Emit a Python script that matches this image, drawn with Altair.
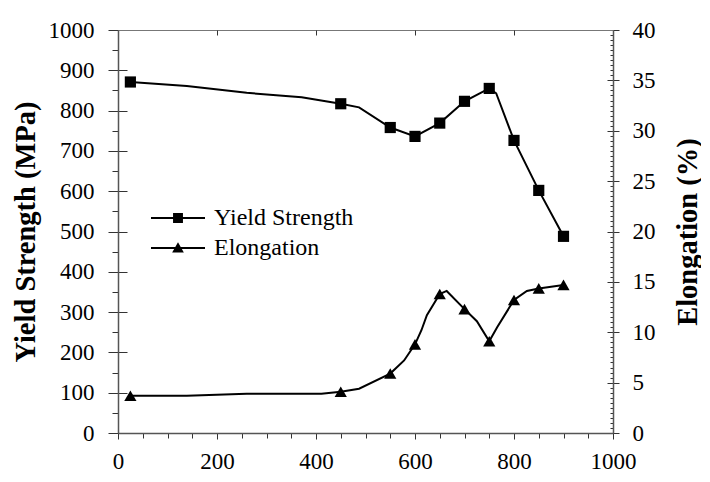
import altair as alt
import pandas as pd

# Marker points
ys_x = [25, 450, 550, 600, 650, 700, 750, 800, 850, 900]
ys_y = [871, 817, 758, 736, 769, 823, 855, 726, 602, 488]
el_x = [25, 450, 550, 600, 650, 700, 750, 800, 850, 900]
el_y = [3.7, 4.1, 5.9, 8.8, 13.8, 12.3, 9.1, 13.2, 14.35, 14.7]

# Curve vertices
ys_line_x = [25, 139, 260, 371, 450, 487, 550, 600, 650, 700, 750, 764, 800, 850, 900]
ys_line_y = [871, 861, 844, 833, 817, 808, 758, 736, 769, 823, 855, 843, 726, 602, 488]
el_line_x = [25, 139, 260, 411, 450, 487, 550, 578, 600, 613, 624, 650, 664, 700, 725, 750, 766, 800, 826, 850, 900]
el_line_y = [3.7, 3.7, 3.9, 3.9, 4.1, 4.4, 5.9, 7.2, 8.8, 10.2, 11.7, 13.8, 14.1, 12.3, 11.1, 9.1, 10.5, 13.2, 14.1, 14.35, 14.7]

series = ["Yield Strength", "Elongation"]

FONT = "Liberation Serif"
TICK = "#333"
W, H = 495, 403

ys_pts = pd.DataFrame({"T": ys_x, "YS": ys_y})
el_pts = pd.DataFrame({"T": el_x, "EL": el_y})
ys_line = pd.DataFrame({"T": ys_line_x, "YS": ys_line_y})
el_line = pd.DataFrame({"T": el_line_x, "EL": el_line_y})
leg = pd.DataFrame({"S": series})

x_enc = alt.X(
    "T:Q",
    scale=alt.Scale(domain=[0, 1000], nice=False),
    axis=alt.Axis(
        title=None,
        values=list(range(0, 1001, 50)),
        labelExpr="datum.value % 200 === 0 ? format(datum.value, 'd') : ''",
        labelOverlap=False,
        labelFlush=False,
        labelFont=FONT,
        tickSize={"condition": {"test": "datum.value % 200 === 0", "value": 6}, "value": 5},
        labelPadding=11,
        grid=True,
        gridDash=[5, 3000],
        gridColor=TICK,
        gridOpacity={"condition": {"test": "datum.value % 200 === 0 && datum.value > 0 && datum.value < 1000", "value": 1}, "value": 0},
    ),
)

y_left_axis = alt.Axis(
    title="Yield Strength (MPa)",
    values=list(range(0, 1001, 50)),
    labelExpr="datum.value % 100 === 0 ? format(datum.value, 'd') : ''",
    labelOverlap=False,
    labelFlush=False,
    labelFont=FONT,
    titleFont=FONT,
    tickSize={"condition": {"test": "datum.value % 100 === 0", "value": 10}, "value": 6},
    labelPadding=14,
    titleX=-93,
    titleY=H / 2,
    titleAngle=270,
    titleBaseline="middle",
    titleAlign="center",
    grid=True,
    gridDash=[9, 3000],
    gridColor=TICK,
    gridOpacity={"condition": {"test": "datum.value % 100 === 0 && datum.value > 0 && datum.value < 1000", "value": 1}, "value": 0},
)
y_left = alt.Y("YS:Q", scale=alt.Scale(domain=[0, 1000], nice=False), axis=y_left_axis)

el_ticks = [i * 0.5 for i in range(0, 81)]
y_right_axis = alt.Axis(
    title="Elongation (%)",
    orient="right",
    values=el_ticks,
    labelExpr="datum.value % 5 === 0 ? format(datum.value, 'd') : ''",
    labelOverlap=False,
    labelFlush=False,
    labelFont=FONT,
    titleFont=FONT,
    tickSize={"condition": {"test": "datum.value % 5 === 0", "value": 6}, "value": 0},
    labelPadding=13,
    titleX=74,
    titleY=H / 2,
    titleAngle=270,
    titleBaseline="middle",
    titleAlign="center",
    grid=True,
    gridDash={"condition": {"test": "datum.value % 5 === 0", "value": [6, 3000]}, "value": [3, 3000]},
    gridColor=TICK,
    gridOpacity={"condition": {"test": "datum.value > 0 && datum.value < 40", "value": 1}, "value": 0},
)
y_right = alt.Y("EL:Q", scale=alt.Scale(domain=[0, 40], nice=False), axis=y_right_axis)

ys_l = alt.Chart(ys_line).mark_line(color="black", strokeWidth=2).encode(x=x_enc, y=y_left)
ys_p = alt.Chart(ys_pts).mark_point(shape="square", filled=True, color="black", size=125, opacity=1).encode(x=x_enc, y=y_left)

el_l = alt.Chart(el_line).mark_line(color="black", strokeWidth=2).encode(x=x_enc, y=y_right)
el_p = alt.Chart(el_pts).mark_point(shape="triangle-up", filled=True, color="black", size=150, opacity=1).encode(x=x_enc, y=y_right)

# legend glyphs: a short line with the marker on it (filled outlines, unit box)
sq_path = "M-3,-0.1L3,-0.1L3,0.1L-3,0.1Z M-0.55,-0.55L0.55,-0.55L0.55,0.55L-0.55,0.55Z"
tri_path = "M-3,-0.1L3,-0.1L3,0.1L-3,0.1Z M0,-0.65L0.65,0.5L-0.65,0.5Z"

legend_layer = (
    alt.Chart(leg)
    .transform_filter("false")
    .mark_point(filled=True, color="black", opacity=1)
    .encode(
        shape=alt.Shape(
            "S:N",
            scale=alt.Scale(domain=series, range=[sq_path, tri_path]),
            legend=alt.Legend(
                title=None,
                orient="none",
                legendX=48,
                legendY=176,
                symbolSize=324,
                symbolStrokeWidth=0,
                symbolFillColor="black",
                symbolOpacity=1,
                labelFont=FONT,
                labelFontSize=24,
                labelColor="black",
                labelOffset=24,
                rowPadding=6,
            ),
        )
    )
)

left = alt.layer(ys_l, ys_p, legend_layer)
right = alt.layer(el_l, el_p)

chart = (
    alt.layer(left, right)
    .resolve_scale(y="independent", shape="independent")
    .properties(
        width=W,
        height=H,
        autosize=alt.AutoSizeParams(type="none"),
        padding={"left": 110, "top": 22, "right": 88, "bottom": 41},
    )
    .configure_view(stroke="#777", strokeWidth=1)
    .configure_axis(
        labelFont=FONT,
        labelFontSize=23,
        labelColor="black",
        titleFont=FONT,
        titleFontSize=28.5,
        titleFontWeight="bold",
        titleColor="black",
        domainColor="#555",
        domainWidth=1.5,
        tickColor=TICK,
        tickWidth=1,
        gridWidth=1,
    )
)

chart.save("out.html", embed_options={"renderer": "svg", "actions": False})
